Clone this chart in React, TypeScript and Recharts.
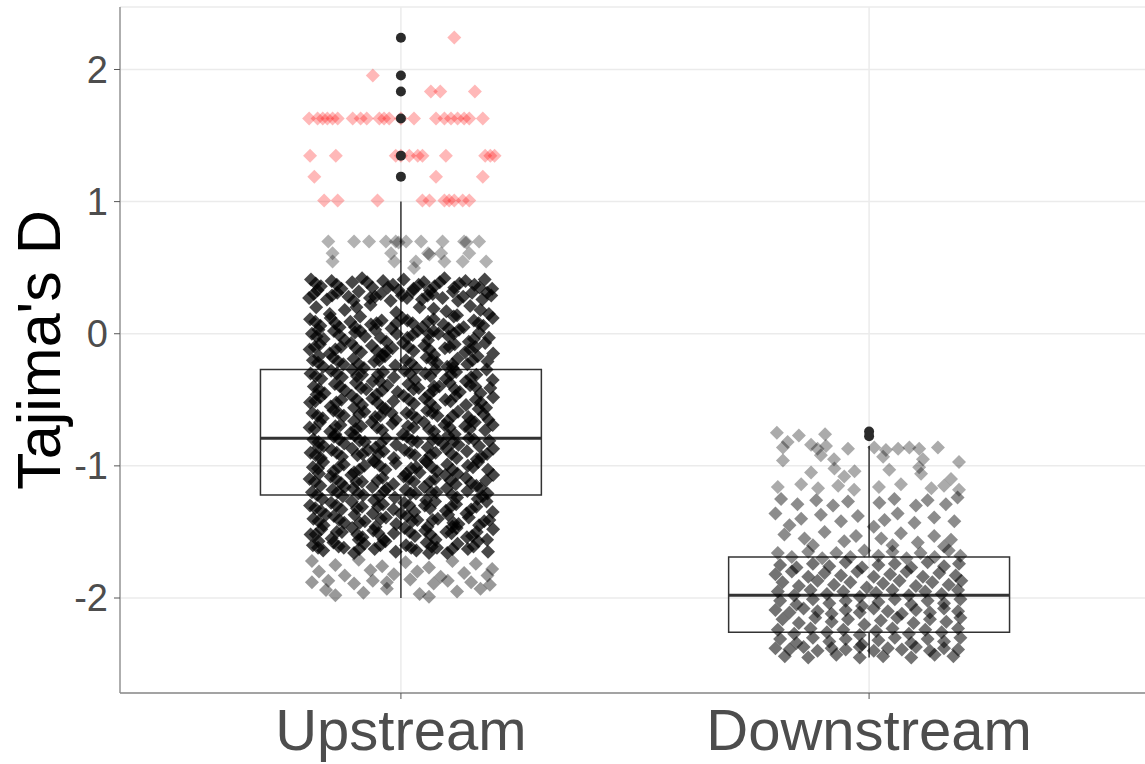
import {
  ScatterChart, Scatter, XAxis, YAxis, CartesianGrid,
  ReferenceArea, ReferenceLine,
} from 'recharts'

// groups on the x axis (positions 1 and 2)
const groups = ['Upstream', 'Downstream']

// box statistics per group
const q1 = [-1.22, -2.26]
const medians = [-0.79, -1.98]
const q3 = [-0.27, -1.69]
const whiskerLow = [-2.0, -2.45]
const whiskerHigh = [1.0, -0.85]

// outliers drawn by the boxplot
const upstreamOutliers = [2.24, 1.955, 1.833, 1.629, 1.348, 1.189]
const downstreamOutliers = [-0.74, -0.775]

// jittered points: [x offset, Tajima's D]
const upstreamRed: [number, number][] = [
  [0.114, 2.242], [-0.06, 1.955], [0.064, 1.833], [0.084, 1.833], [0.158, 1.833],
  [-0.196, 1.629], [-0.178, 1.629], [-0.167, 1.629], [-0.157, 1.629], [-0.146, 1.629], [-0.135, 1.629],
  [-0.103, 1.629], [-0.086, 1.629], [-0.073, 1.629], [-0.046, 1.629], [-0.036, 1.629], [-0.025, 1.629],
  [0.0, 1.629], [0.028, 1.629], [0.075, 1.629], [0.093, 1.629], [0.107, 1.629], [0.121, 1.629],
  [0.135, 1.629], [0.146, 1.629], [0.175, 1.629],
  [-0.194, 1.348], [-0.139, 1.348], [-0.011, 1.348], [0.0, 1.348], [0.018, 1.348], [0.036, 1.348],
  [0.046, 1.348], [0.096, 1.348], [0.18, 1.348], [0.191, 1.348], [0.2, 1.348],
  [-0.185, 1.189], [0.075, 1.189], [0.175, 1.189],
  [-0.164, 1.008], [-0.135, 1.008], [-0.05, 1.008], [0.046, 1.008], [0.061, 1.008], [0.093, 1.008],
  [0.103, 1.008], [0.114, 1.008], [0.132, 1.008], [0.146, 1.008],
]

const upstreamSparse: [number, number][] = [
  [-0.155, 0.698], [-0.1, 0.698], [-0.068, 0.698], [-0.032, 0.698], [-0.011, 0.698], [-0.005, 0.69],
  [0.011, 0.698], [0.043, 0.698], [0.089, 0.698], [0.135, 0.698], [0.14, 0.69], [0.167, 0.698],
  [-0.146, 0.61], [-0.021, 0.61], [0.058, 0.61], [0.061, 0.6], [0.086, 0.61], [0.146, 0.61],
  [-0.146, 0.547], [-0.014, 0.547], [0.032, 0.547], [0.093, 0.547], [0.132, 0.547], [0.182, 0.547],
  [0.028, 0.497],
]

const upstreamCoreTop: [number, number][] = [
  [-0.192, 0.41], [-0.171, 0.36], [-0.148, 0.4], [-0.127, 0.34], [-0.104, 0.39], [-0.083, 0.42], [-0.061, 0.35],
  [-0.038, 0.4], [-0.017, 0.37], [0.006, 0.41], [0.027, 0.34], [0.049, 0.39], [0.072, 0.36], [0.093, 0.42],
  [0.114, 0.35], [0.138, 0.4], [0.157, 0.37], [0.179, 0.41], [0.195, 0.34], [-0.005, 0.33],
  [-0.186, 0.3], [-0.158, 0.26], [-0.136, 0.31], [-0.112, 0.28], [-0.09, 0.32], [-0.066, 0.27], [-0.043, 0.3],
  [-0.022, 0.25], [0.002, 0.29], [0.024, 0.32], [0.045, 0.26], [0.068, 0.3], [0.089, 0.27], [0.111, 0.32],
  [0.133, 0.28], [0.152, 0.31], [0.174, 0.26], [0.193, 0.29], [-0.178, 0.33], [0.062, 0.33],
  [-0.181, 0.2], [-0.12, 0.18], [-0.065, 0.22], [-0.01, 0.16], [0.04, 0.2], [0.097, 0.17], [0.148, 0.21],
  [0.188, 0.15], [-0.152, 0.15], [0.12, 0.14],
  [-0.194, 0.11], [-0.172, 0.06], [-0.15, 0.12], [-0.131, 0.05], [-0.108, 0.09], [-0.087, 0.13], [-0.064, 0.07],
  [-0.041, 0.1], [-0.02, 0.04], [0.003, 0.12], [0.025, 0.08], [0.046, 0.05], [0.07, 0.11], [0.091, 0.07],
  [0.113, 0.13], [0.134, 0.05], [0.156, 0.1], [0.176, 0.06], [0.196, 0.12], [-0.01, 0.08],
  [-0.19, 0.0], [-0.165, -0.04], [-0.143, 0.02], [-0.12, -0.05], [-0.098, 0.01], [-0.077, -0.02], [-0.055, 0.03],
  [-0.031, -0.06], [-0.009, 0.0], [0.014, -0.03], [0.036, 0.02], [0.058, -0.05], [0.08, 0.0], [0.102, -0.02],
  [0.124, 0.03], [0.145, -0.06], [0.167, 0.01], [0.188, -0.03], [-0.176, 0.03], [0.06, 0.0],
  [-0.195, -0.12], [-0.173, -0.08], [-0.152, -0.15], [-0.128, -0.1], [-0.106, -0.07], [-0.085, -0.14], [-0.062, -0.09],
  [-0.04, -0.16], [-0.018, -0.11], [0.005, -0.07], [0.027, -0.13], [0.05, -0.09], [0.071, -0.16], [0.094, -0.11],
  [0.115, -0.08], [0.137, -0.14], [0.159, -0.1], [0.18, -0.07], [0.197, -0.15], [-0.03, -0.13],
  [-0.188, -0.2], [-0.166, -0.25], [-0.145, -0.18], [-0.123, -0.23], [-0.101, -0.19], [-0.079, -0.26], [-0.057, -0.21],
  [-0.034, -0.17], [-0.012, -0.24], [0.011, -0.2], [0.033, -0.26], [0.055, -0.18], [0.077, -0.22], [0.099, -0.25],
  [0.121, -0.19], [0.142, -0.23], [0.164, -0.17], [0.185, -0.21], [-0.175, -0.17], [0.111, -0.26],
]

const upstreamCoreMid: [number, number][] = [
  [-0.193, -0.3], [-0.17, -0.34], [-0.149, -0.28], [-0.126, -0.33], [-0.104, -0.27], [-0.083, -0.31], [-0.06, -0.36],
  [-0.038, -0.29], [-0.015, -0.33], [0.008, -0.28], [0.03, -0.35], [0.052, -0.3], [0.074, -0.27], [0.096, -0.34],
  [0.118, -0.29], [0.139, -0.36], [0.161, -0.31], [0.183, -0.27], [0.196, -0.35], [-0.045, -0.36],
  [-0.186, -0.4], [-0.163, -0.45], [-0.141, -0.38], [-0.119, -0.43], [-0.096, -0.37], [-0.074, -0.42], [-0.052, -0.46],
  [-0.029, -0.39], [-0.007, -0.44], [0.016, -0.38], [0.038, -0.41], [0.06, -0.46], [0.082, -0.4], [0.104, -0.37],
  [0.126, -0.44], [0.148, -0.39], [0.17, -0.45], [0.191, -0.41], [-0.18, -0.46], [0.07, -0.43],
  [-0.194, -0.52], [-0.172, -0.48], [-0.15, -0.55], [-0.127, -0.5], [-0.105, -0.47], [-0.083, -0.54], [-0.061, -0.49],
  [-0.039, -0.56], [-0.016, -0.51], [0.006, -0.47], [0.028, -0.53], [0.051, -0.49], [0.073, -0.56], [0.095, -0.5],
  [0.117, -0.47], [0.139, -0.54], [0.16, -0.5], [0.182, -0.56], [0.197, -0.48], [-0.1, -0.56],
  [-0.189, -0.6], [-0.167, -0.64], [-0.144, -0.58], [-0.122, -0.62], [-0.1, -0.66], [-0.078, -0.59], [-0.055, -0.63],
  [-0.033, -0.57], [-0.011, -0.65], [0.012, -0.6], [0.034, -0.64], [0.056, -0.58], [0.078, -0.62], [0.1, -0.66],
  [0.122, -0.59], [0.144, -0.63], [0.166, -0.57], [0.187, -0.65], [-0.02, -0.6], [0.15, -0.66],
  [-0.195, -0.71], [-0.173, -0.67], [-0.151, -0.74], [-0.129, -0.69], [-0.107, -0.75], [-0.085, -0.7], [-0.062, -0.67],
  [-0.04, -0.73], [-0.018, -0.68], [0.004, -0.76], [0.027, -0.71], [0.049, -0.67], [0.071, -0.74], [0.093, -0.69],
  [0.115, -0.76], [0.137, -0.7], [0.158, -0.67], [0.18, -0.73], [0.196, -0.69], [-0.14, -0.76],
  [-0.187, -0.8], [-0.165, -0.85], [-0.143, -0.78], [-0.121, -0.83], [-0.099, -0.77], [-0.077, -0.82], [-0.054, -0.86],
  [-0.032, -0.79], [-0.01, -0.84], [0.013, -0.78], [0.035, -0.82], [0.057, -0.86], [0.079, -0.8], [0.101, -0.77],
  [0.123, -0.84], [0.145, -0.79], [0.167, -0.85], [0.189, -0.81], [-0.176, -0.86], [0.09, -0.83],
  [-0.193, -0.9], [-0.171, -0.94], [-0.148, -0.88], [-0.126, -0.93], [-0.104, -0.87], [-0.082, -0.91], [-0.059, -0.96],
  [-0.037, -0.89], [-0.015, -0.94], [0.008, -0.88], [0.03, -0.92], [0.052, -0.96], [0.074, -0.9], [0.097, -0.87],
  [0.119, -0.94], [0.141, -0.89], [0.162, -0.95], [0.184, -0.91], [0.197, -0.87], [-0.07, -0.88],
]

const upstreamCoreLow: [number, number][] = [
  [-0.188, -1.01], [-0.166, -0.97], [-0.144, -1.04], [-0.122, -0.99], [-0.1, -1.05], [-0.078, -1.0], [-0.056, -0.97],
  [-0.033, -1.03], [-0.011, -0.98], [0.011, -1.06], [0.033, -1.01], [0.055, -0.97], [0.077, -1.04], [0.099, -0.99],
  [0.121, -1.06], [0.143, -1.0], [0.165, -0.97], [0.186, -1.03], [-0.175, -1.06], [0.04, -1.05],
  [-0.195, -1.1], [-0.172, -1.15], [-0.15, -1.08], [-0.128, -1.13], [-0.106, -1.07], [-0.083, -1.12], [-0.061, -1.16],
  [-0.039, -1.09], [-0.016, -1.14], [0.006, -1.08], [0.028, -1.12], [0.05, -1.16], [0.073, -1.1], [0.095, -1.07],
  [0.117, -1.14], [0.139, -1.09], [0.161, -1.15], [0.182, -1.11], [0.197, -1.07], [-0.12, -1.16],
  [-0.19, -1.2], [-0.168, -1.25], [-0.146, -1.18], [-0.124, -1.23], [-0.102, -1.17], [-0.08, -1.22], [-0.057, -1.26],
  [-0.035, -1.19], [-0.013, -1.24], [0.01, -1.18], [0.032, -1.21], [0.054, -1.26], [0.076, -1.2], [0.098, -1.17],
  [0.12, -1.24], [0.142, -1.19], [0.164, -1.25], [0.185, -1.21], [-0.03, -1.17], [0.17, -1.17],
  [-0.194, -1.3], [-0.171, -1.34], [-0.149, -1.28], [-0.127, -1.33], [-0.105, -1.27], [-0.083, -1.31], [-0.06, -1.36],
  [-0.038, -1.29], [-0.016, -1.33], [0.007, -1.28], [0.029, -1.35], [0.051, -1.3], [0.073, -1.27], [0.096, -1.34],
  [0.118, -1.29], [0.14, -1.36], [0.161, -1.31], [0.183, -1.27], [0.196, -1.35], [0.0, -1.36],
  [-0.187, -1.4], [-0.165, -1.45], [-0.143, -1.38], [-0.121, -1.43], [-0.099, -1.37], [-0.077, -1.42], [-0.054, -1.46],
  [-0.032, -1.39], [-0.01, -1.44], [0.013, -1.38], [0.035, -1.41], [0.057, -1.46], [0.079, -1.4], [0.101, -1.37],
  [0.123, -1.44], [0.145, -1.39], [0.167, -1.45], [0.189, -1.41], [-0.16, -1.37], [0.11, -1.46],
  [-0.193, -1.52], [-0.17, -1.48], [-0.148, -1.55], [-0.126, -1.5], [-0.104, -1.47], [-0.082, -1.54], [-0.059, -1.49],
  [-0.037, -1.56], [-0.015, -1.51], [0.008, -1.47], [0.03, -1.53], [0.052, -1.49], [0.074, -1.56], [0.097, -1.5],
  [0.119, -1.47], [0.141, -1.54], [0.162, -1.5], [0.184, -1.56], [0.197, -1.48], [-0.09, -1.56],
  [-0.188, -1.6], [-0.166, -1.64], [-0.144, -1.58], [-0.122, -1.62], [-0.1, -1.66], [-0.078, -1.59], [-0.056, -1.63],
  [-0.033, -1.57], [-0.011, -1.65], [0.011, -1.6], [0.033, -1.64], [0.055, -1.58], [0.077, -1.62], [0.099, -1.66],
  [0.121, -1.59], [0.143, -1.63], [0.165, -1.57], [0.186, -1.65], [-0.176, -1.57], [0.06, -1.66],
]

const upstreamCoreFill: [number, number][] = [
  [-0.182, 0.38], [-0.137, 0.37], [-0.072, 0.39], [-0.028, 0.35], [0.038, 0.37], [0.083, 0.39], [0.125, 0.38], [0.168, 0.35],
  [-0.196, 0.27], [-0.147, 0.29], [-0.101, 0.25], [-0.055, 0.28], [0.013, 0.27], [0.057, 0.29], [0.122, 0.25], [0.184, 0.31],
  [-0.095, 0.2], [0.07, 0.19], [0.17, 0.18],
  [-0.183, 0.09], [-0.14, 0.08], [-0.098, 0.05], [-0.052, 0.08], [0.014, 0.1], [0.058, 0.09], [0.102, 0.04], [0.166, 0.08],
  [-0.18, -0.02], [-0.132, -0.01], [-0.087, 0.02], [-0.043, -0.03], [0.025, -0.01], [0.07, 0.02], [0.113, 0.0], [0.156, -0.04],
  [-0.184, -0.1], [-0.14, -0.12], [-0.096, -0.11], [-0.051, -0.13], [0.016, -0.1], [0.061, -0.12], [0.104, -0.1], [0.148, -0.12],
  [-0.177, -0.22], [-0.134, -0.21], [-0.09, -0.23], [-0.046, -0.2], [0.022, -0.22], [0.066, -0.2], [0.11, -0.23], [0.153, -0.2],
  [-0.182, -0.32], [-0.137, -0.3], [-0.094, -0.32], [-0.049, -0.31], [0.019, -0.3], [0.063, -0.32], [0.107, -0.31], [0.15, -0.33],
  [-0.175, -0.42], [-0.13, -0.4], [-0.085, -0.41], [-0.04, -0.43], [0.027, -0.42], [0.071, -0.4], [0.115, -0.42], [0.159, -0.4],
  [-0.183, -0.51], [-0.138, -0.52], [-0.094, -0.5], [-0.05, -0.52], [0.017, -0.5], [0.062, -0.52], [0.106, -0.51], [0.171, -0.52],
  [-0.178, -0.62], [-0.133, -0.6], [-0.089, -0.61], [-0.044, -0.62], [0.023, -0.61], [0.067, -0.6], [0.111, -0.62], [0.177, -0.61],
  [-0.184, -0.72], [-0.14, -0.7], [-0.096, -0.72], [-0.051, -0.71], [0.015, -0.7], [0.06, -0.72], [0.104, -0.71], [0.147, -0.72],
  [-0.176, -0.82], [-0.132, -0.8], [-0.088, -0.81], [-0.043, -0.83], [0.024, -0.81], [0.068, -0.8], [0.112, -0.82], [0.156, -0.8],
  [-0.182, -0.92], [-0.137, -0.9], [-0.093, -0.92], [-0.048, -0.91], [0.019, -0.9], [0.063, -0.92], [0.108, -0.91], [0.173, -0.93],
  [-0.177, -1.02], [-0.133, -1.01], [-0.089, -1.03], [-0.045, -1.0], [0.022, -1.02], [0.066, -1.01], [0.11, -1.03], [0.154, -1.01],
  [-0.184, -1.12], [-0.139, -1.1], [-0.095, -1.12], [-0.05, -1.11], [0.017, -1.1], [0.062, -1.12], [0.106, -1.11], [0.15, -1.13],
  [-0.179, -1.22], [-0.135, -1.2], [-0.091, -1.21], [-0.046, -1.23], [0.021, -1.21], [0.065, -1.2], [0.109, -1.22], [0.175, -1.23],
  [-0.183, -1.32], [-0.138, -1.3], [-0.094, -1.32], [-0.049, -1.31], [0.018, -1.3], [0.062, -1.32], [0.107, -1.31], [0.15, -1.33],
  [-0.176, -1.42], [-0.132, -1.41], [-0.088, -1.43], [-0.043, -1.4], [0.024, -1.42], [0.068, -1.41], [0.112, -1.43], [0.178, -1.42],
  [-0.182, -1.52], [-0.137, -1.5], [-0.093, -1.52], [-0.048, -1.51], [0.019, -1.5], [0.063, -1.52], [0.108, -1.51], [0.152, -1.53],
  [-0.177, -1.62], [-0.133, -1.61], [-0.089, -1.63], [-0.044, -1.6], [0.022, -1.62], [0.066, -1.61], [0.11, -1.63], [0.155, -1.61],
]

const upstreamBottom: [number, number][] = [
  [-0.19, -1.72], [-0.14, -1.75], [-0.09, -1.71], [-0.04, -1.76], [0.01, -1.73], [0.06, -1.77], [0.11, -1.72],
  [0.16, -1.74], [0.195, -1.78],
  [-0.175, -1.8], [-0.12, -1.83], [-0.065, -1.79], [-0.015, -1.82], [0.035, -1.8], [0.085, -1.84], [0.135, -1.81],
  [0.185, -1.83],
  [-0.19, -1.88], [-0.155, -1.87], [-0.1, -1.89], [-0.06, -1.87], [-0.03, -1.88], [0.02, -1.86], [0.07, -1.89],
  [0.1, -1.87], [0.15, -1.88], [0.19, -1.9],
  [-0.16, -1.94], [-0.08, -1.96], [-0.03, -1.93], [0.04, -1.97], [0.12, -1.95], [0.17, -1.93], [-0.14, -1.98],
  [0.06, -1.99],
]

const downstreamTop: [number, number][] = [
  [-0.197, -0.75], [-0.15, -0.77], [-0.094, -0.76],
  [-0.184, -0.86], [-0.174, -0.82], [-0.124, -0.84], [-0.11, -0.87], [-0.092, -0.85], [-0.045, -0.87],
  [0.011, -0.86], [0.036, -0.88], [0.062, -0.87], [0.086, -0.86], [0.107, -0.87], [0.147, -0.86],
  [-0.184, -0.96], [-0.075, -0.95], [0.03, -0.93], [0.115, -0.95], [0.192, -0.97], [-0.103, -0.92],
  [-0.124, -1.05], [-0.074, -1.02], [-0.053, -1.08], [-0.031, -1.04], [0.043, -1.03], [0.111, -1.06],
  [0.107, -1.01], [0.175, -1.1],
  [-0.195, -1.16], [-0.145, -1.14], [-0.109, -1.17], [-0.066, -1.15], [-0.032, -1.18], [0.021, -1.16],
  [0.068, -1.14], [0.133, -1.17], [0.16, -1.15], [0.192, -1.18],
]

const downstreamMid: [number, number][] = [
  [-0.188, -1.25], [-0.153, -1.29], [-0.113, -1.26], [-0.077, -1.3], [-0.045, -1.27], [0.022, -1.28],
  [0.054, -1.25], [0.1, -1.3], [0.125, -1.26], [0.164, -1.29], [0.189, -1.24],
  [-0.2, -1.36], [-0.145, -1.4], [-0.103, -1.37], [-0.06, -1.42], [-0.024, -1.38], [0.033, -1.41],
  [0.061, -1.36], [0.097, -1.43], [0.139, -1.39], [0.182, -1.42], [-0.17, -1.45], [0.01, -1.46],
  [-0.181, -1.52], [-0.138, -1.55], [-0.095, -1.5], [-0.053, -1.57], [-0.028, -1.53], [0.026, -1.55],
  [0.068, -1.51], [0.104, -1.58], [0.139, -1.53], [0.175, -1.56], [-0.12, -1.6], [0.05, -1.6], [0.16, -1.61],
  [-0.195, -1.66], [-0.165, -1.69], [-0.13, -1.65], [-0.1, -1.7], [-0.07, -1.66], [-0.04, -1.69], [-0.01, -1.64],
  [0.02, -1.68], [0.05, -1.65], [0.08, -1.7], [0.11, -1.66], [0.14, -1.69], [0.17, -1.64], [0.195, -1.68],
]

const downstreamLow: [number, number][] = [
  [-0.19, -1.75], [-0.155, -1.77], [-0.12, -1.74], [-0.085, -1.76], [-0.05, -1.73], [-0.015, -1.77],
  [0.02, -1.75], [0.055, -1.74], [0.09, -1.77], [0.125, -1.73], [0.16, -1.76], [0.192, -1.74],
  [-0.2, -1.82], [-0.165, -1.8], [-0.13, -1.84], [-0.095, -1.81], [-0.06, -1.83], [-0.025, -1.8],
  [0.01, -1.84], [0.045, -1.82], [0.08, -1.8], [0.115, -1.84], [0.15, -1.81], [0.185, -1.83],
  [-0.185, -1.88], [-0.15, -1.91], [-0.11, -1.87], [-0.075, -1.9], [-0.04, -1.88], [-0.005, -1.92],
  [0.03, -1.89], [0.065, -1.87], [0.1, -1.91], [0.135, -1.88], [0.17, -1.9], [0.197, -1.87],
  [-0.195, -1.95], [-0.16, -1.98], [-0.125, -1.94], [-0.09, -1.97], [-0.055, -1.95], [-0.02, -1.99],
  [0.015, -1.96], [0.05, -1.94], [0.085, -1.98], [0.12, -1.95], [0.155, -1.97], [0.19, -1.94],
  [-0.19, -2.02], [-0.155, -2.05], [-0.12, -2.01], [-0.085, -2.04], [-0.05, -2.02], [-0.015, -2.06],
  [0.02, -2.03], [0.055, -2.01], [0.09, -2.05], [0.125, -2.02], [0.16, -2.04], [0.195, -2.01],
  [-0.2, -2.09], [-0.17, -2.11], [-0.14, -2.08], [-0.11, -2.1], [-0.08, -2.12], [-0.05, -2.09], [-0.02, -2.11],
  [0.01, -2.08], [0.04, -2.1], [0.07, -2.12], [0.1, -2.09], [0.13, -2.11], [0.16, -2.08], [0.19, -2.1],
  [-0.185, -2.16], [-0.15, -2.19], [-0.115, -2.15], [-0.08, -2.18], [-0.045, -2.16], [-0.01, -2.2],
  [0.025, -2.17], [0.06, -2.15], [0.095, -2.19], [0.13, -2.16], [0.165, -2.18], [0.195, -2.15],
  [-0.195, -2.24], [-0.16, -2.27], [-0.125, -2.23], [-0.09, -2.26], [-0.055, -2.24], [-0.02, -2.28],
  [0.015, -2.25], [0.05, -2.23], [0.085, -2.27], [0.12, -2.24], [0.155, -2.26], [0.19, -2.23],
  [-0.19, -2.31], [-0.155, -2.34], [-0.12, -2.3], [-0.085, -2.33], [-0.05, -2.31], [-0.015, -2.35],
  [0.02, -2.32], [0.055, -2.3], [0.09, -2.34], [0.125, -2.31], [0.16, -2.33], [0.195, -2.3],
  [-0.2, -2.38], [-0.17, -2.39], [-0.14, -2.37], [-0.11, -2.4], [-0.08, -2.38], [-0.05, -2.39], [-0.02, -2.37],
  [0.01, -2.4], [0.04, -2.38], [0.07, -2.39], [0.1, -2.37], [0.13, -2.4], [0.16, -2.38], [0.19, -2.39],
  [-0.18, -2.44], [-0.13, -2.45], [-0.07, -2.43], [-0.02, -2.45], [0.03, -2.44], [0.09, -2.45], [0.14, -2.43],
  [0.18, -2.44],
]

const yTicks = [-2, -1, 0, 1, 2]

const FONT = '"Liberation Sans", Arial, Helvetica, sans-serif'
const BOX = '#333333'

const toPoints = (pos: number, pts: [number, number][]) => pts.map(([dx, y]) => ({ x: pos + dx, y }))

const diamond = (fill: string, opacity: number) => (props: any) => {
  const { cx, cy } = props
  const r = 7
  return (
    <path
      d={`M${cx},${cy - r}L${cx + r},${cy}L${cx},${cy + r}L${cx - r},${cy}Z`}
      fill={fill}
      fillOpacity={opacity}
    />
  )
}

const dot = (props: any) => <circle cx={props.cx} cy={props.cy} r={5} fill="#2b2b2b" />

const YLabel = (props: any) => {
  const vb = props.viewBox
  const x = 60
  const y = vb.y + vb.height / 2
  return (
    <text x={x} y={y} transform={`rotate(-90, ${x}, ${y})`} textAnchor="middle"
      fontSize={61} fontFamily={FONT} fill="#000">
      Tajima's D
    </text>
  )
}

export default function App() {
  const outliers = [
    ...upstreamOutliers.map((y) => ({ x: 1, y })),
    ...downstreamOutliers.map((y) => ({ x: 2, y })),
  ]

  return (
    <div style={{ width: 1145, height: 764, overflow: 'hidden', background: '#fff' }}>
      <style>{'body{margin:0}'}</style>
      <ScatterChart width={1150} height={764} margin={{ top: 7, right: 0, bottom: 0, left: 0 }}>
        <CartesianGrid stroke="#ebebeb" strokeWidth={1.5} />
        <XAxis
          type="number" dataKey="x" domain={[0.4, 2.6]} ticks={[1, 2]} allowDataOverflow
          tickFormatter={(v) => groups[v - 1]} height={71}
          tick={{ fill: '#4d4d4d', fontSize: 58, fontFamily: FONT }}
          tickSize={6} tickMargin={10}
          axisLine={{ stroke: '#8a8a8a', strokeWidth: 1.3 }} tickLine={{ stroke: '#555' }}
        />
        <XAxis xAxisId="top" orientation="top" type="number" dataKey="x" domain={[0.4, 2.6]}
          height={0} tick={false} tickLine={false} axisLine={{ stroke: '#8a8a8a', strokeWidth: 1.3 }} />
        <YAxis
          type="number" dataKey="y" domain={[-2.719, 2.473]} ticks={yTicks} allowDataOverflow
          width={120} tick={{ fill: '#4d4d4d', fontSize: 38, fontFamily: FONT }}
          tickSize={6} tickMargin={6}
          axisLine={{ stroke: '#8a8a8a', strokeWidth: 1.3 }} tickLine={{ stroke: '#555' }}
          label={{ content: YLabel }}
        />

        <Scatter data={toPoints(1, upstreamSparse)} shape={diamond('#000', 0.3)} isAnimationActive={false} />
        <Scatter data={toPoints(1, upstreamBottom)} shape={diamond('#000', 0.4)} isAnimationActive={false} />
        <Scatter data={toPoints(1, upstreamCoreTop)} shape={diamond('#000', 0.72)} isAnimationActive={false} />
        <Scatter data={toPoints(1, upstreamCoreMid)} shape={diamond('#000', 0.72)} isAnimationActive={false} />
        <Scatter data={toPoints(1, upstreamCoreLow)} shape={diamond('#000', 0.72)} isAnimationActive={false} />
        <Scatter data={toPoints(1, upstreamCoreFill)} shape={diamond('#000', 0.72)} isAnimationActive={false} />
        <Scatter data={toPoints(1, upstreamRed)} shape={diamond('#ff0000', 0.28)} isAnimationActive={false} />
        <Scatter data={toPoints(2, downstreamTop)} shape={diamond('#000', 0.33)} isAnimationActive={false} />
        <Scatter data={toPoints(2, downstreamMid)} shape={diamond('#000', 0.45)} isAnimationActive={false} />
        <Scatter data={toPoints(2, downstreamLow)} shape={diamond('#000', 0.55)} isAnimationActive={false} />

        {groups.map((g, i) => (
          <ReferenceLine key={`wh-${g}`} segment={[{ x: i + 1, y: q3[i] }, { x: i + 1, y: whiskerHigh[i] }]}
            stroke={BOX} strokeWidth={1.5} />
        ))}
        {groups.map((g, i) => (
          <ReferenceLine key={`wl-${g}`} segment={[{ x: i + 1, y: whiskerLow[i] }, { x: i + 1, y: q1[i] }]}
            stroke={BOX} strokeWidth={1.5} />
        ))}
        {groups.map((g, i) => (
          <ReferenceArea key={`box-${g}`} x1={i + 0.7} x2={i + 1.3} y1={q1[i]} y2={q3[i]}
            fill="none" fillOpacity={0} stroke={BOX} strokeWidth={1.5} strokeOpacity={1} />
        ))}
        {groups.map((g, i) => (
          <ReferenceLine key={`med-${g}`} segment={[{ x: i + 0.7, y: medians[i] }, { x: i + 1.3, y: medians[i] }]}
            stroke={BOX} strokeWidth={3} />
        ))}

        <Scatter data={outliers} shape={dot} isAnimationActive={false} />
      </ScatterChart>
    </div>
  )
}
